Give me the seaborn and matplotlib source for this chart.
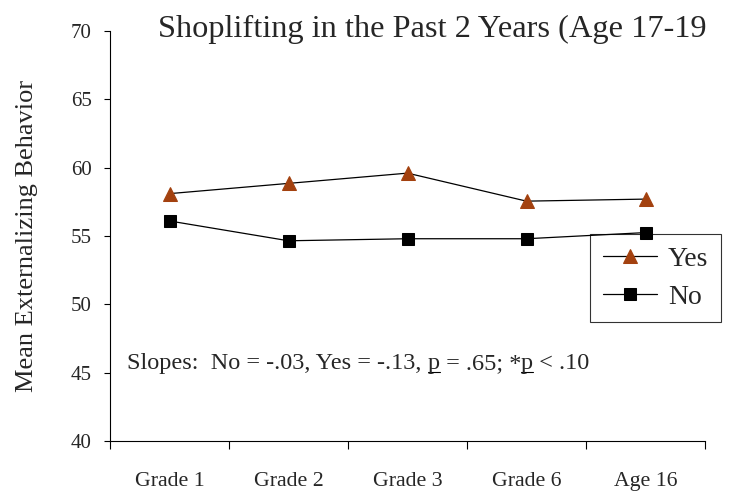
import matplotlib
matplotlib.use("Agg")
import matplotlib.pyplot as plt
from matplotlib.lines import Line2D
import seaborn as sns
import numpy as np
import pandas as pd

categories = ["Grade 1", "Grade 2", "Grade 3", "Grade 6", "Age 16"]
yes_values = [58.1, 58.85, 59.6, 57.55, 57.7]
no_values = [56.1, 54.65, 54.8, 54.8, 55.25]
yticks = [40, 45, 50, 55, 60, 65, 70]
title = "Shoplifting in the Past 2 Years (Age 17-19"
ylabel = "Mean Externalizing Behavior"
note_parts = ["Slopes:  No = -.03, Yes = -.13, ", "p", " = .65; *", "p", " < .10"]
underlined = [False, True, False, True, False]

sns.set_style("white")
plt.rcParams["font.family"] = ["Liberation Serif", "DejaVu Serif"]

fig = plt.figure(figsize=(7.3, 4.92), dpi=100)
ax = fig.add_axes([110/730, 1-441/492, (705-110)/730, (441-31)/492])

x = np.arange(len(categories))
df = pd.DataFrame({"x": x, "Yes": yes_values, "No": no_values})

sns.lineplot(data=df, x="x", y="Yes", ax=ax, color="black", lw=0.9,
             marker="^", markersize=10, markerfacecolor="#A3410F",
             markeredgecolor="#A3410F", label="Yes", zorder=3)
sns.lineplot(data=df, x="x", y="No", ax=ax, color="black", lw=0.9,
             marker="s", markersize=9, markerfacecolor="black",
             markeredgecolor="black", label="No", zorder=3)

ax.set_xlim(-0.5, len(categories) - 0.5)
ax.set_ylim(40, 70)
ax.set_yticks(yticks)
ax.set_yticklabels([str(t) for t in yticks], fontsize=15)
ax.set_xticks(np.arange(-0.5, len(categories)), labels=[""] * (len(categories) + 1))
ax.set_xticks(x, labels=categories, minor=True)
ax.tick_params(axis="x", which="minor", bottom=False, length=0, labelsize=15.7, pad=22)
ax.tick_params(axis="x", which="major", bottom=True, length=5.5, width=0.8,
               color="black", direction="out")
ax.tick_params(axis="y", left=True, length=4.5, width=0.8, color="black",
               direction="out", pad=8.5)
ax.set_xlabel("")
ax.set_ylabel(ylabel, fontsize=19, labelpad=24)

for s in ["top", "right"]:
    ax.spines[s].set_visible(False)
for s in ["left", "bottom"]:
    ax.spines[s].set_color("black")
    ax.spines[s].set_linewidth(0.8)

leg = ax.legend(loc="upper left", bbox_to_anchor=(590/730, 1-234/492),
                bbox_transform=fig.transFigure, fontsize=20, frameon=True,
                fancybox=False, edgecolor="black", handlelength=1.95,
                borderpad=0.45, labelspacing=0.45, handletextpad=0.4,
                borderaxespad=0)
leg.get_frame().set_linewidth(0.8)
leg.set_zorder(2.5)

fig.text(158/730, 1-29/492, title, fontsize=23.3, va="center", ha="left")

# note, drawn as chained text pieces
texts = []
prev = fig.text(127/730, 1-369/492, note_parts[0], fontsize=17.5, va="baseline", ha="left")
texts.append(prev)
for part in note_parts[1:]:
    prev = fig.text(0, 0, part, fontsize=17.5, va="baseline", ha="left")
    texts.append(prev)

fig.canvas.draw()
r = fig.canvas.get_renderer()
xpos = texts[0].get_window_extent(r).x1
for t in texts[1:]:
    t.set_position((xpos / fig.bbox.width, texts[0].get_position()[1]))
    xpos = t.get_window_extent(r).x1
for t, u in zip(texts, underlined):
    if u:
        bb = t.get_window_extent(r)
        base = texts[0].get_position()[1] * fig.bbox.height - 3
        fig.add_artist(Line2D([bb.x0 / fig.bbox.width, bb.x1 / fig.bbox.width],
                              [base / fig.bbox.height] * 2, color="black", lw=0.8,
                              transform=fig.transFigure))

fig.savefig("out.png", dpi=100)
